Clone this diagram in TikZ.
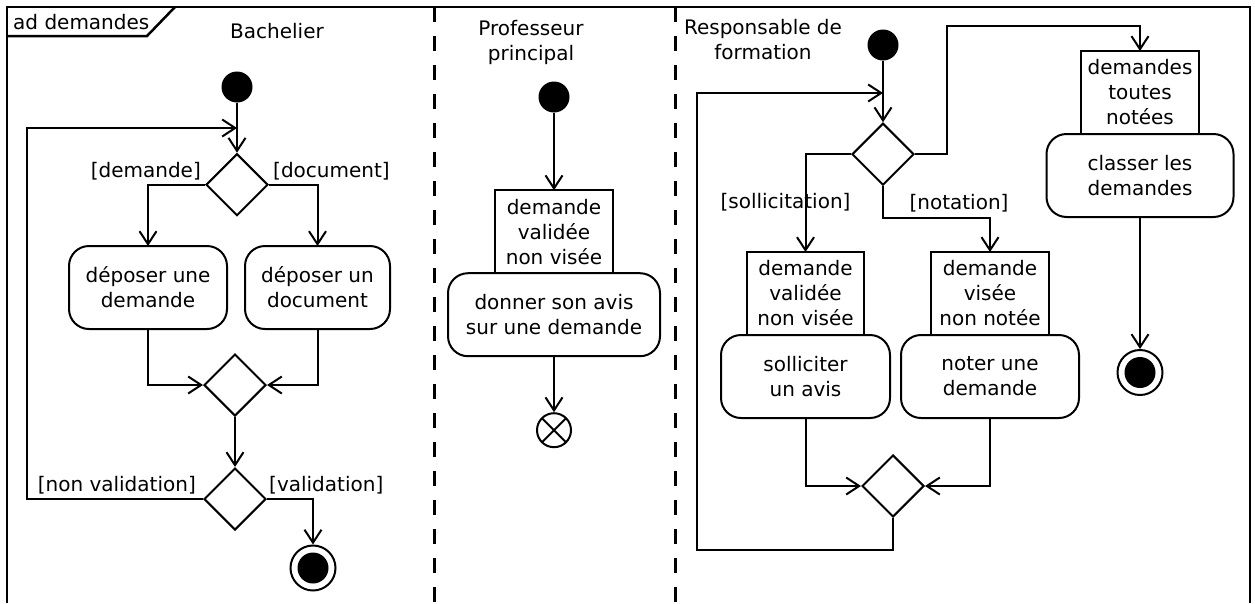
\documentclass[tikz,border=0pt]{standalone}
\usepackage{fontspec}
\setmainfont{DejaVu Sans}
\usetikzlibrary{shapes.geometric, arrows.meta, positioning}

\begin{document}
\begin{tikzpicture}[x=1pt, y=-1pt, node distance=25pt, font=\fontsize{20pt}{25pt}\selectfont]
    % Styles
    \tikzstyle{action} = [rectangle, draw, line width=2pt, rounded corners=20pt, align=center, inner sep=0pt, outer sep=0pt, minimum height=83pt]
    \tikzstyle{objet} = [rectangle, draw, line width=2pt, align=center, inner sep=0pt, outer sep=0pt, minimum height=83pt]
    \tikzstyle{decision} = [diamond, draw, line width=2pt, aspect=1, inner sep=0pt, minimum size=62pt]
    \tikzstyle{debut} = [circle, fill=black, inner sep=0pt, minimum size=31pt]
    \tikzstyle{fin} = [circle, draw, line width=2pt, inner sep=0pt, minimum size=45pt, path picture={\fill (path picture bounding box.center) circle (15.5pt);}]
    \tikzstyle{finflot} = [circle, draw, line width=2pt, inner sep=0pt, minimum size=34pt, path picture={\draw[line width=2pt] (path picture bounding box.north west) -- (path picture bounding box.south east) (path picture bounding box.north east) -- (path picture bounding box.south west);}]
    \tikzstyle{guard} = [inner sep=0pt]
    \tikzstyle{line} = [draw, line width=2pt, -{Straight Barb[length=13pt, width=17pt]}]
    \tikzstyle{cadre} = [draw, line width=2.5pt]
    \tikzstyle{couloir} = [draw, line width=3pt, dash pattern=on 15pt off 14pt]

    \useasboundingbox (0,0) rectangle (1255,603);

    % Frame and lanes
    \draw[cadre] (7,603) -- (7,7) -- (1250,7) -- (1250,603);
    \draw[cadre] (7,36) -- (147,36) -- (175,7);
    \draw[couloir] (434,7) -- (434,603);
    \draw[couloir] (675,7) -- (675,603);
    \node[guard, anchor=base west] (titre) at (13,29) {ad demandes};
    \node[guard, anchor=base] (bach) at (277,38) {Bachelier};
    \node[guard, align=center] (prof) at (531,42) {Professeur\\principal};
    \node[guard, align=center] (resp) at (763,40) {Responsable de\\formation};

    % Nodes: Bachelier
    \node[debut] (init1) at (237,87) {};
    \node[decision, below=50pt of init1] (dec1) {};
    \coordinate (boucle1) at (237,128);
    \node[action, minimum width=158pt] (depdem) at (148,287.5) {déposer une\\demande};
    \node[action, minimum width=145pt] (depdoc) at (317.5,287.5) {déposer un\\document};
    \node[decision] (merge1) at (235,385) {};
    \node[decision, below=50pt of merge1] (dec2) {};
    \node[fin] (fin1) at (313,568) {};
    \node[guard, above left=4pt and 4pt of dec1.west] (gdem) {[demande]};
    \node[guard, above right=4pt and 4pt of dec1.east] (gdoc) {[document]};
    \node[guard, above left=5pt and 7pt of dec2.west] (gnonval) {[non validation]};
    \node[guard, above right=5pt and 2pt of dec2.east] (gval) {[validation]};

    % Nodes: Professeur principal
    \node[debut] (init2) at (554,97) {};
    \node[objet, minimum width=118pt, below=77.5pt of init2] (obj1) {demande\\validée\\non visée};
    \node[action, minimum width=212pt, below=0pt of obj1] (avis) {donner son avis\\sur une demande};
    \node[finflot, below=56pt of avis] (fin3) {};

    % Nodes: Responsable de formation
    \node[debut] (init3) at (883,45) {};
    \node[decision, below=61.5pt of init3] (dec3) {};
    \coordinate (boucle3) at (883,93);
    \coordinate (coude3) at (883,218);
    \coordinate (haut3) at (947,26);
    \coordinate (bas3) at (697,550);
    \node[objet, minimum width=117pt] (obj2) at (805.5,293.5) {demande\\validée\\non visée};
    \node[action, minimum width=169pt, below=0pt of obj2] (solli) {solliciter\\un avis};
    \node[objet, minimum width=118pt] (obj3) at (990,293.5) {demande\\visée\\non notée};
    \node[action, minimum width=178pt, below=0pt of obj3] (noter) {noter une\\demande};
    \node[decision] (merge2) at (893,486) {};
    \node[objet, minimum width=118pt] (obj4) at (1140,92.5) {demandes\\toutes\\notées};
    \node[action, minimum width=187pt, below=0pt of obj4] (classer) {classer les\\demandes};
    \node[fin, below=132pt of classer] (fin2) {};
    \node[guard, above=41pt of obj2.north, xshift=-20pt] (gsol) {[sollicitation]};
    \node[guard, above=40pt of obj3.north, xshift=-31pt] (gnot) {[notation]};

    % Paths
    \path[line] (init1) -- (dec1);
    \path[line] (dec1.west) -| (depdem.north);
    \path[line] (dec1.east) -| (depdoc.north);
    \path[line] (depdem.south) |- (merge1.west);
    \path[line] (depdoc.south) |- (merge1.east);
    \path[line] (merge1) -- (dec2);
    \path[line] (dec2.east) -| (fin1.north);
    \path[line] (dec2.west) -- ++(-176,0) |- (boucle1);
    \path[line] (init2) -- (obj1);
    \path[line] (avis) -- (fin3);
    \path[line] (init3) -- (dec3);
    \path[line] (dec3.west) -| (obj2.north);
    \path[line] (dec3.south) -- (coude3) -| (obj3.north);
    \path[line] (dec3.east) -| (haut3) -| (obj4.north);
    \path[line] (solli.south) |- (merge2.west);
    \path[line] (noter.south) |- (merge2.east);
    \path[line] (merge2.south) |- (bas3) |- (boucle3);
    \path[line] (classer) -- (fin2);
\end{tikzpicture}
\end{document}
